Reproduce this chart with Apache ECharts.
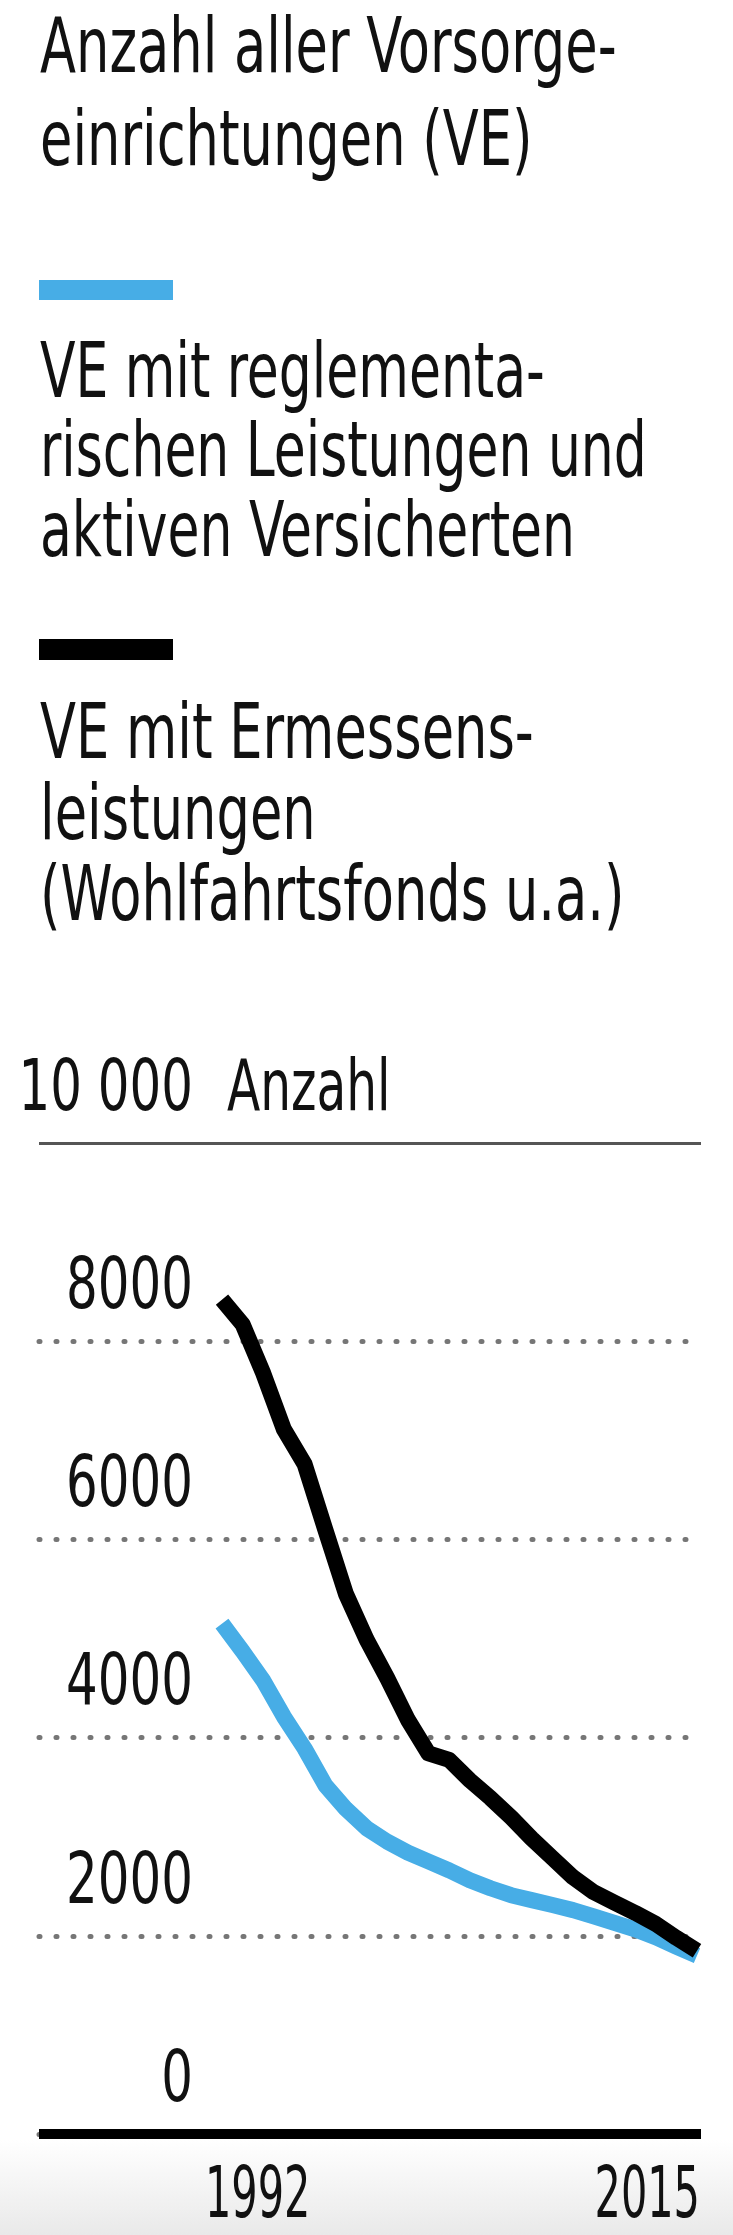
<!DOCTYPE html>
<html>
<head>
<meta charset="utf-8">
<script src="https://cdn.jsdelivr.net/npm/echarts@6/dist/echarts.min.js"></script>
<style>
html,body{margin:0;padding:0;}
body{background:linear-gradient(to bottom,#ffffff 0px,#ffffff 2140px,#e9e9e9 2235px);}
#c{width:733px;height:2235px;}
</style>
</head>
<body>
<div id="c"></div>
<script>
// ---- data ----
const years = [1992,1993,1994,1995,1996,1997,1998,1999,2000,2001,2002,2003,2004,2005,2006,2007,2008,2009,2010,2011,2012,2013,2014,2015];
const reglementarisch = [5150,4870,4575,4210,3890,3520,3280,3086,2950,2840,2750,2660,2560,2480,2410,2360,2310,2259,2195,2130,2065,1985,1890,1800];
const ermessen = [8420,8170,7675,7110,6760,6100,5450,4990,4600,4180,3840,3775,3570,3390,3195,2980,2785,2590,2440,2335,2232,2120,1980,1850];
const yTickValues = [0,2000,4000,6000,8000,10000];
const xTickLabels = ['1992','2015'];
const titleLines = ['Anzahl aller Vorsorge-','einrichtungen (VE)'];
const legendReg = ['VE mit reglementa-','rischen Leistungen und','aktiven Versicherten'];
const legendErm = ['VE mit Ermessens-','leistungen','(Wohlfahrtsfonds u.a.)'];
const unitLabel = 'Anzahl';

// ---- styles ----
const FONT = "'DejaVu Sans Condensed','Liberation Sans','DejaVu Sans',sans-serif";
const BLUE = '#47ade6';
const INK = '#111111';
const DOT = '#767676';

const chart = echarts.init(document.getElementById('c'), null, {renderer:'canvas'});

chart.setOption({
  animation:false,
  backgroundColor:'transparent',
  grid:{left:39, right:32, top:1143, bottom:101, containLabel:false},
  xAxis:{type:'value', min:1983.139, max:2015.194,
    axisLine:{show:true, onZero:false, lineStyle:{color:'#000', width:10, cap:'butt'}},
    axisTick:{show:false}, splitLine:{show:false}, axisLabel:{show:false}},
  yAxis:{type:'value', min:0, max:10000, interval:2000,
    axisLine:{show:false}, axisTick:{show:false}, axisLabel:{show:false},
    splitLine:{show:true, lineStyle:{color:[DOT,DOT,DOT,DOT,DOT,'rgba(0,0,0,0)'], width:5, type:[1,16], cap:'round'}}},
  series:[
    {type:'line', name:legendReg.join(' '), symbol:'none', showSymbol:false, z:2,
      data:years.map((y,i)=>[y, reglementarisch[i]]),
      lineStyle:{color:BLUE, width:16, cap:'butt', join:'round'},
      markLine:{silent:true, symbol:'none', animation:false, label:{show:false},
        lineStyle:{type:'solid', color:'#555', width:3}, data:[{yAxis:10000}]}},
    {type:'line', name:legendErm.join(' '), symbol:'none', showSymbol:false, z:3,
      data:years.map((y,i)=>[y, ermessen[i]]),
      lineStyle:{color:'#000', width:16, cap:'butt', join:'round'}}
  ]
});

// ---- texts (condensed via scaleX) ----
function txt(t, x, y, size, sx, align){
  return {type:'text', x:x, y:y, scaleX:sx, silent:true,
    style:{text:t, x:0, y:0, fontSize:size, fontFamily:FONT, fill:INK, align:align||'left', verticalAlign:'middle'}};
}
const g = [];
titleLines.forEach((t,i)=>g.push(txt(t, 40, 52 + i*93, 76, 0.77)));
g.push({type:'rect', silent:true, shape:{x:39,y:280,width:134,height:20}, style:{fill:BLUE}});
legendReg.forEach((t,i)=>g.push(txt(t, 40, 377 + i*79.5, 76, 0.76)));
g.push({type:'rect', silent:true, shape:{x:39,y:639,width:134,height:21}, style:{fill:'#000'}});
legendErm.forEach((t,i)=>g.push(txt(t, 40, 738 + i*81, 76, 0.77)));

// tick labels placed through the axes' own scales
const fmtY = v => v >= 10000 ? String(v).replace(/(\d)(?=(\d{3})+$)/g,'$1 ') : String(v);
const yAxisX = chart.convertToPixel({xAxisIndex:0}, 1983.139);
yTickValues.forEach(v=>{
  const py = chart.convertToPixel({yAxisIndex:0}, v);
  g.push(txt(fmtY(v), yAxisX + 154, py - 52, 72, 0.77, 'right'));
});
const pyTop = chart.convertToPixel({yAxisIndex:0}, 10000);
g.push(txt(unitLabel, yAxisX + 188, pyTop - 52, 72, 0.75, 'left'));
const pyZero = chart.convertToPixel({yAxisIndex:0}, 0);
const x0 = chart.convertToPixel({xAxisIndex:0}, Number(xTickLabels[0]));
const x1 = chart.convertToPixel({xAxisIndex:0}, Number(xTickLabels[1]));
g.push(txt(xTickLabels[0], x0 - 17, pyZero + 64, 72, 0.64, 'left'));
g.push(txt(xTickLabels[1], x1 + 3, pyZero + 64, 72, 0.64, 'right'));

chart.setOption({graphic:g});
</script>
</body>
</html>
